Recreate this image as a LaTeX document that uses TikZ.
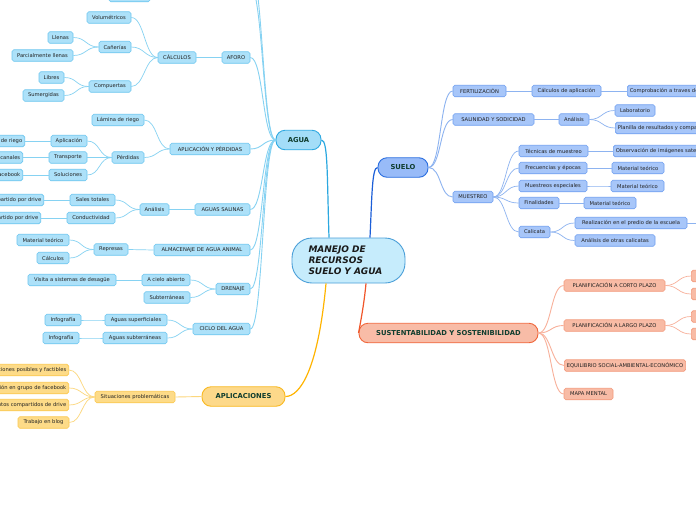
\documentclass[tikz,border=0pt]{standalone}
\usepackage{fontspec}
\setmainfont{DejaVu Sans}
\definecolor{txt}{HTML}{222222}
\definecolor{maintxt}{HTML}{0F3D2E}
\definecolor{wfill}{HTML}{ADE1F9}
\definecolor{wdraw}{HTML}{6CC6EF}
\definecolor{wline}{HTML}{86D2F2}
\definecolor{wmfill}{HTML}{A3DDF8}
\definecolor{wmdraw}{HTML}{2FA9E1}
\definecolor{cfill}{HTML}{C6ECFC}
\definecolor{cdraw}{HTML}{4A9FD8}
\definecolor{sfill}{HTML}{A7C6F9}
\definecolor{sdraw}{HTML}{6F9FF0}
\definecolor{sline}{HTML}{8DB3F0}
\definecolor{smfill}{HTML}{98BBF8}
\definecolor{smdraw}{HTML}{2A6EE0}
\definecolor{rfill}{HTML}{F8BBA5}
\definecolor{rdraw}{HTML}{F39A7C}
\definecolor{rline}{HTML}{F8B09A}
\definecolor{rmfill}{HTML}{F8BCA7}
\definecolor{rmdraw}{HTML}{F0673C}
\definecolor{yfill}{HTML}{FDDB88}
\definecolor{ydraw}{HTML}{FBC84E}
\definecolor{yline}{HTML}{FCD77C}
\definecolor{ymfill}{HTML}{FDD98A}
\definecolor{ymdraw}{HTML}{F9B921}
\definecolor{lagua}{HTML}{2BA8E0}
\definecolor{lsuelo}{HTML}{1C5FD8}
\definecolor{lsust}{HTML}{F0562A}
\definecolor{laplic}{HTML}{FFB400}
\tikzset{
  box/.style={draw, rounded corners=1.8pt, line width=0.6pt, minimum height=11.5pt,
    inner xsep=2.5pt, inner ysep=0pt, font=\fontsize{5.2}{6}\selectfont, text=txt},
  mw/.style={minimum width=#1pt},
  wb/.style={box, fill=wfill, draw=wdraw},
  sb/.style={box, fill=sfill, draw=sdraw},
  rb/.style={box, fill=rfill, draw=rdraw},
  yb/.style={box, fill=yfill, draw=ydraw},
  mainbox/.style={draw, rounded corners=9pt, line width=0.9pt, minimum height=19.5pt,
    inner xsep=2pt, inner ysep=0pt, font=\fontsize{6.8}{8}\selectfont\bfseries, text=maintxt},
  wl/.style={draw=wline, line width=0.7pt},
  wl1/.style={draw=wline, line width=0.9pt},
  sl/.style={draw=sline, line width=0.7pt},
  sl1/.style={draw=sline, line width=0.9pt},
  rl/.style={draw=rline, line width=0.7pt},
  rl1/.style={draw=rline, line width=0.9pt},
  yl/.style={draw=yline, line width=0.7pt},
  yl1/.style={draw=yline, line width=0.9pt},
}
\newcommand\leftlink[3]{\draw[#1] (#2.west) .. controls +(-13,0) and +(13,0) .. (#3.east);}
\newcommand\rightlink[3]{\draw[#1] (#2.east) .. controls +(13,0) and +(-13,0) .. (#3.west);}
\begin{document}
\begin{tikzpicture}[x=1pt,y=-1pt]
\useasboundingbox (0,0) rectangle (696,520);
\fill[white] (0,0) rectangle (696,520);

% ---------- central ----------
\node[draw=cdraw, fill=cfill, line width=0.9pt, rounded corners=20pt, minimum height=45pt,
  text width=80pt, inner xsep=16.5pt, inner ysep=0pt, align=left,
  font=\fontsize{9}{11}\selectfont\bfseries\itshape, text=black!90] (central) at (348.5,260.5)
  {MANEJO DE\\RECURSOS\\SUELO Y AGUA};

% ---------- AGUA ----------
\node[mainbox, fill=wmfill, draw=wmdraw, mw=45] (agua) at (298.5,140) {AGUA};
\node[wb, mw=41] (topbox) at (129.5,-4) {};
\coordinate (up1) at (250,-14);
\coordinate (up2) at (250,-32);
\node[wb, mw=28] (aforo) at (236,57.5) {AFORO};
\node[wb, mw=38] (calc) at (177,57.5) {CÁLCULOS};
\node[wb, mw=44] (vol) at (109,17.5) {Volumétricos};
\node[wb, mw=32] (can) at (115,47) {Cañerías};
\node[wb, mw=25] (llen) at (60.5,37.5) {Llenas};
\node[wb, mw=61] (parc) at (42.5,55.5) {Parcialmente llenas};
\node[wb, mw=42] (comp) at (110,86.5) {Compuertas};
\node[wb, mw=25] (lib) at (51.5,77.5) {Libres};
\node[wb, mw=41] (sum) at (43.5,95.5) {Sumergidas};
\node[wb, mw=80] (aplp) at (210,149) {APLICACIÓN Y PÉRDIDAS};
\node[wb, mw=52] (lam) at (118,120) {Lámina de riego};
\node[wb, mw=32] (perd) at (128,157.5) {Pérdidas};
\node[wb, mw=36] (apl) at (69,141) {Aplicación};
\node[wb, mw=38] (tra) at (68,157.5) {Transporte};
\node[wb, mw=38] (sol) at (68,175) {Soluciones};
\node[wb, anchor=east] (ef) at (25,141) {Eficiencia de riego};
\node[wb, anchor=east] (rev) at (23,157.5) {Revestimiento de canales};
\node[wb, anchor=east] (fb) at (23,175) {Grupo de facebook};
\node[wb, mw=55] (sal) at (222.5,209.5) {AGUAS SALINAS};
\node[wb, mw=29] (ana) at (154.5,209.5) {Análisis};
\node[wb, mw=45] (st) at (92.5,200) {Sales totales};
\node[wb, mw=48] (cond) at (91,218) {Conductividad};
\node[wb, anchor=east] (d1) at (44,200) {Informe compartido por drive};
\node[wb, anchor=east] (d2) at (41,218) {Material compartido por drive};
\node[wb, mw=96] (alm) at (202,250) {ALMACENAJE DE AGUA ANIMAL};
\node[wb, mw=34] (rep) at (111,249.5) {Represas};
\node[wb, mw=52] (mt) at (43,240) {Material teórico};
\node[wb, mw=32] (cal) at (53,258) {Cálculos};
\node[wb, mw=34] (dre) at (233,289) {DRENAJE};
\node[wb, mw=48] (cie) at (166,280) {A cielo abierto};
\node[wb, mw=88] (vis) at (72,280) {Visita a sistemas de desagüe};
\node[wb, mw=46] (sub) at (167,297.5) {Subterráneas};
\node[wb, mw=57] (cic) at (221.5,329) {CICLO DEL AGUA};
\node[wb, mw=62] (asup) at (136,320) {Aguas superficiales};
\node[wb, mw=36] (inf1) at (63,320) {Infografía};
\node[wb, mw=64] (asub) at (135,338) {Aguas subterráneas};
\node[wb, mw=36] (inf2) at (61,338) {Infografía};

% ---------- APLICACIONES ----------
\node[mainbox, fill=ymfill, draw=ymdraw, mw=83] (aplic) at (243.5,396.5) {APLICACIONES};
\node[yb, mw=80] (sit) at (135,397) {Situaciones problemáticas};
\node[yb, anchor=east] (p1) at (69,370) {Soluciones posibles y factibles};
\node[yb, anchor=east] (p2) at (69,388) {Discusión en grupo de facebook};
\node[yb, anchor=east] (p3) at (69,405) {Documentos compartidos de drive};
\node[yb, mw=51] (blog) at (43.5,422.5) {Trabajo en blog};

% ---------- SUELO ----------
\node[mainbox, fill=smfill, draw=smdraw, mw=50] (suelo) at (403,167.5) {SUELO};
\node[sb, mw=53] (fert) at (479.5,91) {FERTILIZACIÓN};
\node[sb, mw=69] (cap) at (566.5,91) {Cálculos de aplicación};
\node[sb, anchor=west] (comp2) at (627,91) {Comprobación a traves de ensayos};
\node[sb, mw=81] (salso) at (493.5,119.5) {SALINIDAD Y SODICIDAD};
\node[sb, mw=30] (ana2) at (574,119.5) {Análisis};
\node[sb, mw=40] (lab) at (635,110.5) {Laboratorio};
\node[sb, anchor=west] (plan) at (615,128) {Planilla de resultados y comparaciones};
\node[sb, mw=40] (mue) at (473,197) {MUESTREO};
\node[sb, mw=69] (tec) at (553.5,151) {Técnicas de muestreo};
\node[sb, anchor=west] (obs) at (613,151) {Observación de imágenes satelitales};
\node[sb, mw=68] (fre) at (553,168) {Frecuencias y épocas};
\node[sb, mw=52] (mt1) at (638,168) {Material teórico};
\node[sb, mw=68] (mes) at (553,186) {Muestreos especiales};
\node[sb, mw=53] (mt2) at (637.5,186) {Material teórico};
\node[sb, mw=40] (fin) at (539,203) {Finalidades};
\node[sb, mw=52] (mt3) at (610,203) {Material teórico};
\node[sb, mw=31] (cali) at (534.5,232) {Calicata};
\node[sb, mw=112] (rea) at (631,223) {Realización en el predio de la escuela};
\node[sb, mw=80] (aoc) at (615,240.5) {Análisis de otras calicatas};
\coordinate (reaout) at (720,223);

% ---------- SUSTENTABILIDAD ----------
\node[mainbox, fill=rmfill, draw=rmdraw, mw=179] (sust) at (448.5,333) {SUSTENTABILIDAD Y SOSTENIBILIDAD};
\node[rb, mw=101] (pc) at (614.5,285.5) {PLANIFICACIÓN A CORTO PLAZO};
\node[rb, mw=101] (pl) at (614.5,325.5) {PLANIFICACIÓN A LARGO PLAZO};
\node[rb, anchor=west] (eq) at (564,365.5) {EQUILIBRIO SOCIAL-AMBIENTAL-ECONÓMICO};
\node[rb, mw=49] (mm) at (588.5,394) {MAPA MENTAL};
\node[rb, mw=30, anchor=west] (pc1) at (691,276) {};
\node[rb, mw=30, anchor=west] (pc2) at (691,294) {};
\node[rb, mw=30, anchor=west] (pl1) at (691,316.5) {};
\node[rb, mw=30, anchor=west] (pl2) at (691,334) {};

% ---------- central links ----------
\draw[draw=lagua, line width=1.2pt] ([xshift=-19.5pt]central.north) .. controls (327,175) and (328,140) .. (agua.east);
\draw[draw=lsuelo, line width=1.2pt] ([xshift=21.5pt]central.north) .. controls (372,195) and (372,167.5) .. (suelo.west);
\draw[draw=lsust, line width=1.2pt] ([xshift=17.5pt]central.south) .. controls (364,305) and (360,325) .. (sust.west);
\draw[draw=laplic, line width=1.2pt] ([xshift=-22.5pt]central.south) .. controls (318,370) and (300,396.5) .. (aplic.east);

% ---------- AGUA links ----------
\draw[wl1] (agua.west) .. controls +(-13,0) and +(13,0) .. (up1);
\draw[wl1] (agua.west) .. controls +(-13,0) and +(13,0) .. (up2);
\leftlink{wl1}{agua}{aforo}
\leftlink{wl1}{agua}{aplp}
\leftlink{wl1}{agua}{sal}
\leftlink{wl1}{agua}{alm}
\leftlink{wl1}{agua}{dre}
\leftlink{wl1}{agua}{cic}
\leftlink{wl}{aforo}{calc}
\leftlink{wl}{calc}{vol}
\leftlink{wl}{calc}{can}
\leftlink{wl}{calc}{comp}
\leftlink{wl}{can}{llen}
\leftlink{wl}{can}{parc}
\leftlink{wl}{comp}{lib}
\leftlink{wl}{comp}{sum}
\leftlink{wl}{aplp}{lam}
\leftlink{wl}{aplp}{perd}
\leftlink{wl}{perd}{apl}
\leftlink{wl}{perd}{tra}
\leftlink{wl}{perd}{sol}
\leftlink{wl}{apl}{ef}
\leftlink{wl}{tra}{rev}
\leftlink{wl}{sol}{fb}
\leftlink{wl}{sal}{ana}
\leftlink{wl}{ana}{st}
\leftlink{wl}{ana}{cond}
\leftlink{wl}{st}{d1}
\leftlink{wl}{cond}{d2}
\leftlink{wl}{alm}{rep}
\leftlink{wl}{rep}{mt}
\leftlink{wl}{rep}{cal}
\leftlink{wl}{dre}{cie}
\leftlink{wl}{dre}{sub}
\leftlink{wl}{cie}{vis}
\leftlink{wl}{cic}{asup}
\leftlink{wl}{cic}{asub}
\leftlink{wl}{asup}{inf1}
\leftlink{wl}{asub}{inf2}

% ---------- APLICACIONES links ----------
\leftlink{yl1}{aplic}{sit}
\leftlink{yl}{sit}{p1}
\leftlink{yl}{sit}{p2}
\leftlink{yl}{sit}{p3}
\leftlink{yl}{sit}{blog}

% ---------- SUELO links ----------
\rightlink{sl1}{suelo}{fert}
\rightlink{sl1}{suelo}{salso}
\rightlink{sl1}{suelo}{mue}
\rightlink{sl}{fert}{cap}
\rightlink{sl}{cap}{comp2}
\rightlink{sl}{salso}{ana2}
\rightlink{sl}{ana2}{lab}
\rightlink{sl}{ana2}{plan}
\rightlink{sl}{mue}{tec}
\rightlink{sl}{mue}{fre}
\rightlink{sl}{mue}{mes}
\rightlink{sl}{mue}{fin}
\rightlink{sl}{mue}{cali}
\rightlink{sl}{tec}{obs}
\rightlink{sl}{fre}{mt1}
\rightlink{sl}{mes}{mt2}
\rightlink{sl}{fin}{mt3}
\rightlink{sl}{cali}{rea}
\rightlink{sl}{cali}{aoc}
\draw[sl] (rea.east) -- (reaout);

% ---------- SUSTENTABILIDAD links ----------
\rightlink{rl1}{sust}{pc}
\rightlink{rl1}{sust}{pl}
\rightlink{rl1}{sust}{eq}
\rightlink{rl1}{sust}{mm}
\rightlink{rl}{pc}{pc1}
\rightlink{rl}{pc}{pc2}
\rightlink{rl}{pl}{pl1}
\rightlink{rl}{pl}{pl2}
\end{tikzpicture}
\end{document}
